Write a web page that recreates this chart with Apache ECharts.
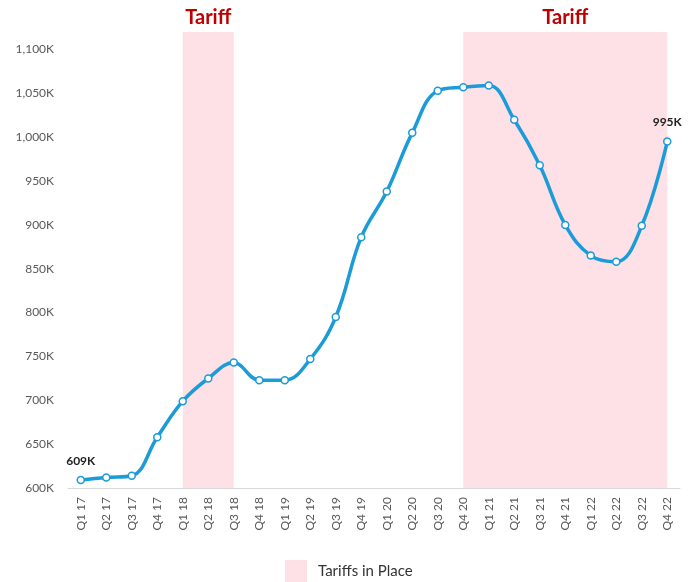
<!DOCTYPE html>
<html>
<head>
<meta charset="utf-8">
<script src="https://cdn.jsdelivr.net/npm/echarts@6/dist/echarts.min.js"></script>
<style>
  html, body { margin: 0; padding: 0; background: #fff; }
  #chart { width: 692px; height: 582px; }
</style>
</head>
<body>
<div id="chart"></div>
<script>
// quarters on the x axis
var categories = ["Q1 17", "Q2 17", "Q3 17", "Q4 17", "Q1 18", "Q2 18", "Q3 18", "Q4 18",
  "Q1 19", "Q2 19", "Q3 19", "Q4 19", "Q1 20", "Q2 20", "Q3 20", "Q4 20",
  "Q1 21", "Q2 21", "Q3 21", "Q4 21", "Q1 22", "Q2 22", "Q3 22", "Q4 22"];
// values in thousands
var values = [609, 612, 614, 658, 699, 725, 743, 723, 723, 747, 795, 886,
  938, 1005, 1053, 1057, 1059, 1020, 968, 900, 865, 858, 899, 995];
// tariff periods (from / to category)
var tariffPeriods = [["Q1 18", "Q3 18"], ["Q4 20", "Q4 22"]];

var blue = "#1b9bd7";
var pink = "#fde1e7";
var grey = "#595959";
var font = "Lato";

var chart = echarts.init(document.getElementById("chart"));
var last = values.length - 1;

var option = {
  animation: false,
  textStyle: { fontFamily: font },
  grid: { left: 68, right: 12, top: 32, bottom: 94 },
  legend: {
    data: ["Tariffs in Place"],
    bottom: -5,
    left: 280,
    icon: "rect",
    itemWidth: 22,
    itemHeight: 22,
    itemGap: 10,
    textStyle: { color: "#333", fontSize: 15, fontFamily: font, padding: [0, 0, 0, 6] }
  },
  xAxis: {
    type: "category",
    data: categories,
    boundaryGap: true,
    axisLine: { lineStyle: { color: "#d9d9d9" } },
    axisTick: { show: false },
    axisLabel: { rotate: 90, color: grey, fontSize: 12, margin: 9, interval: 0 }
  },
  yAxis: {
    type: "value",
    min: 600,
    max: 1120,
    interval: 50,
    splitLine: { show: false },
    axisLine: { show: false },
    axisTick: { show: false },
    axisLabel: {
      color: grey,
      fontSize: 12,
      margin: 14,
      showMaxLabel: false,
      formatter: function (v) {
        return v.toLocaleString("en-US") + "K";
      }
    }
  },
  series: [
    {
      name: "Tariffs in Place",
      type: "line",
      data: [],
      z: 1,
      itemStyle: { color: pink },
      lineStyle: { color: pink },
      markArea: {
        silent: true,
        itemStyle: { color: pink },
        label: {
          show: true,
          position: "top",
          distance: 4,
          color: "#c00000",
          fontWeight: "bold",
          fontSize: 20,
          fontFamily: font,
          formatter: "Tariff"
        },
        data: tariffPeriods.map(function (p) {
          return [{ xAxis: p[0] }, { xAxis: p[1] }];
        })
      }
    },
    {
      name: "Value",
      type: "line",
      z: 3,
      smooth: 0.4,
      symbol: "circle",
      symbolSize: 7,
      lineStyle: { color: blue, width: 3.5 },
      itemStyle: { color: "#fff", borderColor: blue, borderWidth: 1.5 },
      label: {
        show: false,
        position: "top",
        distance: 9,
        color: "#222",
        fontWeight: "bold",
        fontSize: 12,
        fontFamily: font,
        formatter: function (p) {
          return Math.round(p.value) + "K";
        }
      },
      data: values.map(function (v, i) {
        if (i === 0 || i === last) {
          return { value: v, label: { show: true } };
        }
        return v;
      })
    }
  ]
};

chart.setOption(option);
</script>
</body>
</html>
